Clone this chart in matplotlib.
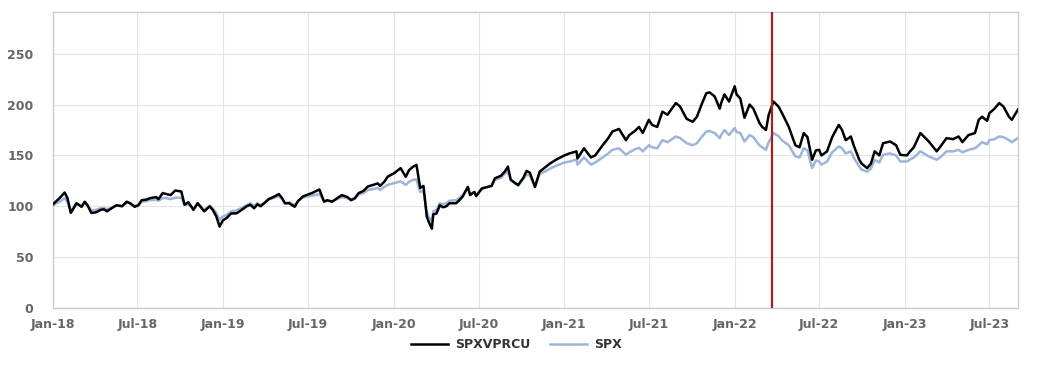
import matplotlib
matplotlib.use("Agg")
import matplotlib.pyplot as plt
import matplotlib.dates as mdates
import pandas as pd

# readings (date, SPXVPRCU, SPX)
dates = [
    "2018-01-01", "2018-01-08", "2018-01-15", "2018-01-26", "2018-02-01", "2018-02-08", "2018-02-14",
    "2018-02-20", "2018-02-27", "2018-03-03", "2018-03-10", "2018-03-16", "2018-03-24", "2018-04-03",
    "2018-04-13", "2018-04-20", "2018-04-27", "2018-05-03", "2018-05-10", "2018-05-17", "2018-05-29",
    "2018-06-08", "2018-06-15", "2018-06-25", "2018-07-03", "2018-07-10", "2018-07-20", "2018-07-28",
    "2018-08-10", "2018-08-15", "2018-08-24", "2018-09-01", "2018-09-10", "2018-09-20", "2018-10-03",
    "2018-10-10", "2018-10-18", "2018-10-29", "2018-11-07", "2018-11-14", "2018-11-21", "2018-12-03",
    "2018-12-10", "2018-12-17", "2018-12-24", "2018-12-31", "2019-01-08", "2019-01-18", "2019-01-29",
    "2019-02-08", "2019-02-20", "2019-02-28", "2019-03-08", "2019-03-15", "2019-03-22", "2019-04-01",
    "2019-04-08", "2019-04-18", "2019-04-30", "2019-05-07", "2019-05-13", "2019-05-22", "2019-06-03",
    "2019-06-10", "2019-06-20", "2019-06-28", "2019-07-10", "2019-07-17", "2019-07-26", "2019-08-05",
    "2019-08-12", "2019-08-22", "2019-08-30", "2019-09-12", "2019-09-24", "2019-10-02", "2019-10-10",
    "2019-10-18", "2019-10-28", "2019-11-07", "2019-11-18", "2019-11-28", "2019-12-03", "2019-12-12",
    "2019-12-19", "2020-01-02", "2020-01-16", "2020-01-27", "2020-02-03", "2020-02-12", "2020-02-19",
    "2020-02-27", "2020-03-05", "2020-03-12", "2020-03-16", "2020-03-23", "2020-03-26", "2020-04-02",
    "2020-04-09", "2020-04-16", "2020-04-23", "2020-04-30", "2020-05-14", "2020-05-21", "2020-05-28",
    "2020-06-08", "2020-06-13", "2020-06-22", "2020-06-26", "2020-07-08", "2020-07-20", "2020-07-29",
    "2020-08-05", "2020-08-18", "2020-08-26", "2020-09-02", "2020-09-08", "2020-09-18", "2020-09-24",
    "2020-10-05", "2020-10-12", "2020-10-19", "2020-10-30", "2020-11-09", "2020-11-20", "2020-12-01",
    "2020-12-15", "2021-01-01", "2021-01-12", "2021-01-27", "2021-01-29", "2021-02-12", "2021-02-27",
    "2021-03-08", "2021-03-24", "2021-04-05", "2021-04-14", "2021-04-28", "2021-05-13", "2021-05-20",
    "2021-06-01", "2021-06-10", "2021-06-18", "2021-07-01", "2021-07-08", "2021-07-19", "2021-07-30",
    "2021-08-10", "2021-08-28", "2021-09-06", "2021-09-20", "2021-10-03", "2021-10-12", "2021-10-22",
    "2021-11-01", "2021-11-08", "2021-11-19", "2021-11-30", "2021-12-03", "2021-12-10", "2021-12-20",
    "2022-01-01", "2022-01-05", "2022-01-13", "2022-01-22", "2022-02-02", "2022-02-10", "2022-02-23",
    "2022-03-01", "2022-03-09", "2022-03-15", "2022-03-25", "2022-04-05", "2022-04-12", "2022-04-27",
    "2022-05-11", "2022-05-20", "2022-05-29", "2022-06-06", "2022-06-16", "2022-06-24", "2022-07-01",
    "2022-07-06", "2022-07-18", "2022-07-29", "2022-08-12", "2022-08-19", "2022-08-27", "2022-09-07",
    "2022-09-13", "2022-09-25", "2022-09-30", "2022-10-12", "2022-10-20", "2022-10-28", "2022-11-07",
    "2022-11-15", "2022-11-30", "2022-12-13", "2022-12-22", "2023-01-05", "2023-01-12", "2023-01-20",
    "2023-02-03", "2023-02-21", "2023-03-10", "2023-03-20", "2023-03-31", "2023-04-14", "2023-04-26",
    "2023-05-04", "2023-05-17", "2023-05-31", "2023-06-08", "2023-06-15", "2023-06-26", "2023-07-01",
    "2023-07-12", "2023-07-22", "2023-07-31", "2023-08-12", "2023-08-18", "2023-08-31",
]

spxvprcu = [
    102, 105, 108, 113.5, 108, 93.5, 98,
    103, 101, 99.5, 104.5, 101, 93.5, 94,
    96.5, 97, 95, 97, 99, 101, 100,
    104.5, 103, 99.5, 101, 106, 106.5, 108,
    109, 107, 113, 112, 111, 115.5, 114.5,
    101.5, 104, 96.5, 103, 99, 95, 100,
    96, 90, 80, 86, 88.5, 93, 93,
    96, 100, 101.5, 98, 102, 100, 104,
    107, 109, 112, 108, 103, 103, 99.5,
    105, 109.5, 111, 113, 114.5, 116.5, 104.5,
    106, 104.5, 107, 111, 109, 106, 108,
    113, 115, 119.5, 121, 122.5, 120, 124,
    129, 132.5, 137.5, 129, 135.5, 139, 140.7,
    118, 120, 90, 85, 78, 92, 93,
    101, 99, 100, 103, 103, 106, 109.5,
    119, 111, 114, 110, 117.5, 119, 120,
    127.5, 130, 134, 139, 126, 122.7, 121,
    128, 134.8, 133, 119, 134, 138, 142,
    146, 150, 152, 154, 147, 157, 148,
    150, 160, 167, 173.5, 176, 165, 170,
    174, 178, 172, 185, 180, 178, 193,
    190, 201.5, 198, 186, 183, 188, 200,
    211, 212, 208, 196, 201.5, 210, 203,
    218, 210, 206, 187, 200, 196, 182,
    178, 175, 190, 203, 198, 192, 178,
    160, 158, 172, 168, 145.7, 155, 155.5,
    150, 154, 168, 180, 175, 165, 168.6,
    160, 145.7, 142, 137.5, 142, 154, 150,
    162, 163.7, 160, 150.6, 150, 154, 158,
    172, 163.7, 154, 160, 167, 166, 168.6,
    163, 170, 172, 185, 188, 184, 191.6,
    196, 201.5, 198, 188, 185, 195,
]

spx = [
    101, 103, 104.5, 108, 104, 96, 98,
    102, 101, 99.5, 103, 101, 96, 96.5,
    98, 98.5, 97, 98, 99.5, 101, 100.5,
    103.5, 103, 100.5, 101, 104.5, 105, 106,
    106.5, 105.5, 108, 108, 107, 108.5, 108.5,
    101.5, 102, 97.5, 103, 100, 96.5, 100.5,
    97.5, 93.5, 86.5, 90, 91.5, 95, 96,
    98, 101, 103, 100, 103, 101, 104,
    106.5, 108, 110, 107, 103, 104, 101,
    105, 108.5, 109.5, 110.5, 111, 112, 105,
    105.5, 104.5, 106.5, 109, 108, 106, 107.5,
    111.5, 113, 116, 117, 118, 116, 119,
    121, 122.7, 124.5, 121, 124, 126, 126.5,
    114, 115, 95, 90, 85, 95, 96.5,
    103, 102, 103, 105.5, 106, 108, 111,
    118.5, 112, 114, 111, 117, 119, 120,
    126, 128, 132, 134, 126, 122, 120,
    127, 131, 130, 119, 132, 134, 137,
    140, 143, 144, 146, 141, 148, 141,
    143, 148, 152, 155.5, 157, 150.6, 153,
    156, 157.5, 154, 160, 158, 157, 165,
    163, 168.6, 167, 162, 160, 162, 168,
    173.5, 174, 172, 167, 170, 175, 170,
    177, 173, 172, 163.7, 170, 168, 160,
    158, 155.5, 163, 172, 169, 165, 160,
    149, 148, 157, 155, 137.5, 145, 144,
    141, 144, 153, 158.8, 157, 152, 154,
    148, 139, 136, 134, 137, 145.7, 143,
    150.6, 152, 150, 144, 144, 146, 148,
    154, 149, 145.7, 149, 154, 154, 155.5,
    153, 155.5, 157, 160, 163, 161, 165,
    166, 168.6, 168, 165, 163, 167,
]

x_ticks = pd.date_range("2018-01-01", "2023-07-01", freq="6MS")
y_ticks = [0, 50, 100, 150, 200, 250]
marker_date = "2022-03-22"

dt = pd.to_datetime(dates)

fig = plt.figure(figsize=(10.58, 3.66), dpi=100)
ax = fig.add_axes([0.0501, 0.1585, 0.912, 0.8087])

ax.plot(dt, spxvprcu, color="black", lw=1.8, label="SPXVPRCU", zorder=3)
ax.plot(dt, spx, color="#9db5d8", lw=1.8, label="SPX", zorder=2)
ax.axvline(pd.Timestamp(marker_date), color="#b01c1c", lw=1.6, zorder=4)

ax.set_xlim(pd.Timestamp("2018-01-01"), pd.Timestamp("2023-08-31"))
ax.set_ylim(0, 291)
ax.set_xticks(x_ticks)
ax.xaxis.set_major_formatter(mdates.DateFormatter("%b-%y"))
ax.set_yticks(y_ticks)

ax.grid(True, color="#e3e3e3", lw=0.8)
ax.set_axisbelow(True)
for s in ax.spines.values():
    s.set_color("#cccccc")
    s.set_linewidth(1)

ax.tick_params(axis="both", length=0, labelsize=9, labelcolor="#666666")
ax.tick_params(axis="y", pad=14)
ax.tick_params(axis="x", pad=7)
for tl in ax.get_xticklabels() + ax.get_yticklabels():
    tl.set_fontweight("bold")

leg = ax.legend(loc="center", bbox_to_anchor=(0.48, -0.125), ncol=2, frameon=False,
                handlelength=3.0, columnspacing=1.6, handletextpad=0.5,
                prop={"size": 9, "weight": "bold"})
for t in leg.get_texts():
    t.set_color("#333333")

fig.savefig("out.png", dpi=100)
